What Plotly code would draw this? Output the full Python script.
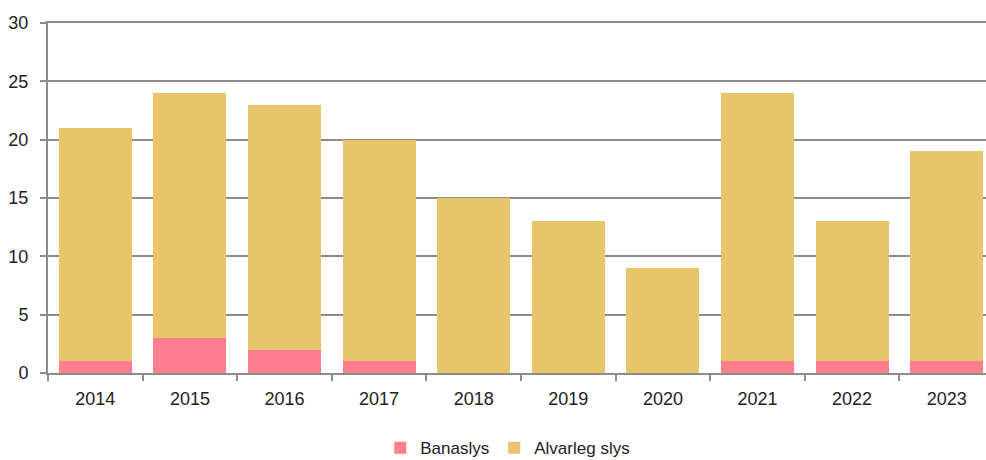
import plotly.graph_objects as go

years = ["2014", "2015", "2016", "2017", "2018", "2019", "2020", "2021", "2022", "2023"]
banaslys = [1, 3, 2, 1, 0, 0, 0, 1, 1, 1]
alvarleg = [20, 21, 21, 19, 15, 13, 9, 23, 12, 18]

fig = go.Figure()
fig.add_trace(go.Bar(x=years, y=banaslys, name="Banaslys", marker_color="#FF7F8E",
                     marker_line_width=0))
fig.add_trace(go.Bar(x=years, y=alvarleg, name="Alvarleg slys", marker_color="#E8C46B",
                     marker_line_width=0))

fig.update_layout(
    barmode="stack",
    bargap=0.23,
    width=994, height=460,
    margin=dict(l=48, r=0, t=23, b=87, autoexpand=False),
    plot_bgcolor="white", paper_bgcolor="white",
    font=dict(family="Liberation Sans, Arial, sans-serif", size=18, color="#222222"),
    legend=dict(orientation="h", x=0.486, xanchor="center", y=-0.215, yanchor="middle",
                font=dict(size=17), itemwidth=30, traceorder="normal"),
    xaxis=dict(showline=True, linecolor="#8c8c8c", linewidth=2, ticks="outside",
               tickson="boundaries", ticklen=6, tickcolor="#8c8c8c", tickwidth=2,
               mirror=True, showgrid=False, ticklabelstandoff=8, automargin=False),
    yaxis=dict(range=[0, 30], dtick=5, showline=True, linecolor="#8c8c8c", linewidth=2,
               ticks="outside", ticklen=6, tickcolor="#8c8c8c", tickwidth=2,
               showgrid=True, gridcolor="#8c8c8c", gridwidth=2, zeroline=False,
               ticklabelstandoff=8, automargin=False),
)
fig.write_html("out.html", config={"displayModeBar": False},
               post_script="document.body.style.margin='0';document.body.style.overflow='hidden';")
